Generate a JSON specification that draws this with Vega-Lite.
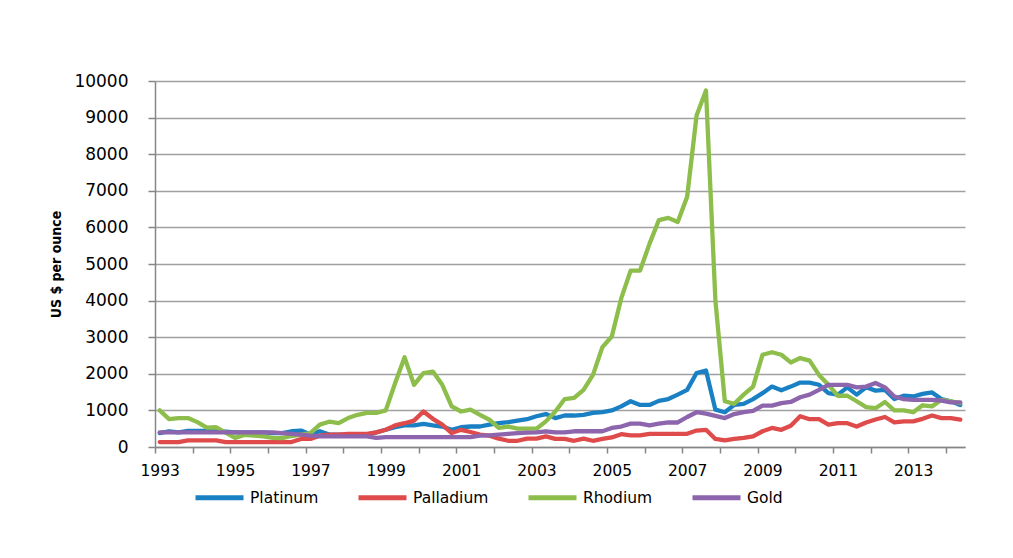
{
  "$schema": "https://vega.github.io/schema/vega-lite/v6.json",
  "width": 810,
  "height": 366,
  "autosize": {"type": "none"},
  "padding": {"left": 155, "top": 81, "right": 48, "bottom": 111},
  "background": "white",
  "data": {"values": [
    {"t": 1993, "Platinum": 380, "Palladium": 135, "Rhodium": 1000, "Gold": 400},
    {"t": 1993.25, "Platinum": 430, "Palladium": 135, "Rhodium": 760, "Gold": 400},
    {"t": 1993.5, "Platinum": 400, "Palladium": 135, "Rhodium": 790, "Gold": 400},
    {"t": 1993.75, "Platinum": 440, "Palladium": 180, "Rhodium": 790, "Gold": 400},
    {"t": 1994, "Platinum": 440, "Palladium": 180, "Rhodium": 680, "Gold": 400},
    {"t": 1994.25, "Platinum": 440, "Palladium": 180, "Rhodium": 530, "Gold": 400},
    {"t": 1994.5, "Platinum": 430, "Palladium": 180, "Rhodium": 540, "Gold": 400},
    {"t": 1994.75, "Platinum": 420, "Palladium": 135, "Rhodium": 390, "Gold": 400},
    {"t": 1995, "Platinum": 400, "Palladium": 135, "Rhodium": 250, "Gold": 400},
    {"t": 1995.25, "Platinum": 400, "Palladium": 135, "Rhodium": 330, "Gold": 400},
    {"t": 1995.5, "Platinum": 400, "Palladium": 135, "Rhodium": 310, "Gold": 400},
    {"t": 1995.75, "Platinum": 400, "Palladium": 135, "Rhodium": 290, "Gold": 400},
    {"t": 1996, "Platinum": 380, "Palladium": 135, "Rhodium": 250, "Gold": 400},
    {"t": 1996.25, "Platinum": 380, "Palladium": 135, "Rhodium": 240, "Gold": 380},
    {"t": 1996.5, "Platinum": 430, "Palladium": 135, "Rhodium": 300, "Gold": 360},
    {"t": 1996.75, "Platinum": 450, "Palladium": 220, "Rhodium": 340, "Gold": 340},
    {"t": 1997, "Platinum": 340, "Palladium": 220, "Rhodium": 380, "Gold": 310},
    {"t": 1997.25, "Platinum": 430, "Palladium": 310, "Rhodium": 610, "Gold": 290},
    {"t": 1997.5, "Platinum": 340, "Palladium": 340, "Rhodium": 690, "Gold": 290},
    {"t": 1997.75, "Platinum": 340, "Palladium": 340, "Rhodium": 650, "Gold": 290},
    {"t": 1998, "Platinum": 340, "Palladium": 360, "Rhodium": 790, "Gold": 290},
    {"t": 1998.25, "Platinum": 340, "Palladium": 360, "Rhodium": 880, "Gold": 290},
    {"t": 1998.5, "Platinum": 340, "Palladium": 360, "Rhodium": 930, "Gold": 290},
    {"t": 1998.75, "Platinum": 400, "Palladium": 400, "Rhodium": 930, "Gold": 250},
    {"t": 1999, "Platinum": 470, "Palladium": 470, "Rhodium": 1000, "Gold": 270},
    {"t": 1999.25, "Platinum": 540, "Palladium": 590, "Rhodium": 1750, "Gold": 270},
    {"t": 1999.5, "Platinum": 590, "Palladium": 650, "Rhodium": 2450, "Gold": 270},
    {"t": 1999.75, "Platinum": 590, "Palladium": 720, "Rhodium": 1700, "Gold": 270},
    {"t": 2000, "Platinum": 630, "Palladium": 970, "Rhodium": 2020, "Gold": 270},
    {"t": 2000.25, "Platinum": 590, "Palladium": 770, "Rhodium": 2060, "Gold": 270},
    {"t": 2000.5, "Platinum": 560, "Palladium": 610, "Rhodium": 1700, "Gold": 270},
    {"t": 2000.75, "Platinum": 470, "Palladium": 380, "Rhodium": 1110, "Gold": 270},
    {"t": 2001, "Platinum": 540, "Palladium": 470, "Rhodium": 970, "Gold": 270},
    {"t": 2001.25, "Platinum": 560, "Palladium": 410, "Rhodium": 1020, "Gold": 270},
    {"t": 2001.5, "Platinum": 560, "Palladium": 340, "Rhodium": 880, "Gold": 310},
    {"t": 2001.75, "Platinum": 610, "Palladium": 310, "Rhodium": 745, "Gold": 320},
    {"t": 2002, "Platinum": 650, "Palladium": 230, "Rhodium": 520, "Gold": 340},
    {"t": 2002.25, "Platinum": 680, "Palladium": 170, "Rhodium": 560, "Gold": 360},
    {"t": 2002.5, "Platinum": 720, "Palladium": 170, "Rhodium": 500, "Gold": 380},
    {"t": 2002.75, "Platinum": 760, "Palladium": 230, "Rhodium": 500, "Gold": 390},
    {"t": 2003, "Platinum": 840, "Palladium": 230, "Rhodium": 500, "Gold": 400},
    {"t": 2003.25, "Platinum": 900, "Palladium": 290, "Rhodium": 700, "Gold": 430},
    {"t": 2003.5, "Platinum": 790, "Palladium": 220, "Rhodium": 970, "Gold": 400},
    {"t": 2003.75, "Platinum": 860, "Palladium": 220, "Rhodium": 1310, "Gold": 400},
    {"t": 2004, "Platinum": 860, "Palladium": 170, "Rhodium": 1340, "Gold": 430},
    {"t": 2004.25, "Platinum": 880, "Palladium": 230, "Rhodium": 1560, "Gold": 430},
    {"t": 2004.5, "Platinum": 930, "Palladium": 170, "Rhodium": 1970, "Gold": 430},
    {"t": 2004.75, "Platinum": 950, "Palladium": 220, "Rhodium": 2730, "Gold": 430},
    {"t": 2005, "Platinum": 1000, "Palladium": 260, "Rhodium": 3020, "Gold": 520},
    {"t": 2005.25, "Platinum": 1110, "Palladium": 350, "Rhodium": 4060, "Gold": 560},
    {"t": 2005.5, "Platinum": 1250, "Palladium": 320, "Rhodium": 4820, "Gold": 640},
    {"t": 2005.75, "Platinum": 1150, "Palladium": 320, "Rhodium": 4820, "Gold": 640},
    {"t": 2006, "Platinum": 1150, "Palladium": 360, "Rhodium": 5550, "Gold": 590},
    {"t": 2006.25, "Platinum": 1260, "Palladium": 360, "Rhodium": 6200, "Gold": 640},
    {"t": 2006.5, "Platinum": 1310, "Palladium": 360, "Rhodium": 6260, "Gold": 670},
    {"t": 2006.75, "Platinum": 1430, "Palladium": 360, "Rhodium": 6150, "Gold": 670},
    {"t": 2007, "Platinum": 1560, "Palladium": 360, "Rhodium": 6840, "Gold": 820},
    {"t": 2007.25, "Platinum": 2020, "Palladium": 450, "Rhodium": 9060, "Gold": 950},
    {"t": 2007.5, "Platinum": 2090, "Palladium": 470, "Rhodium": 9740, "Gold": 910},
    {"t": 2007.75, "Platinum": 1020, "Palladium": 220, "Rhodium": 4000, "Gold": 850},
    {"t": 2008, "Platinum": 950, "Palladium": 180, "Rhodium": 1250, "Gold": 790},
    {"t": 2008.25, "Platinum": 1150, "Palladium": 220, "Rhodium": 1180, "Gold": 900},
    {"t": 2008.5, "Platinum": 1180, "Palladium": 250, "Rhodium": 1430, "Gold": 950},
    {"t": 2008.75, "Platinum": 1310, "Palladium": 290, "Rhodium": 1650, "Gold": 990},
    {"t": 2009, "Platinum": 1470, "Palladium": 430, "Rhodium": 2520, "Gold": 1130},
    {"t": 2009.25, "Platinum": 1650, "Palladium": 520, "Rhodium": 2590, "Gold": 1130},
    {"t": 2009.5, "Platinum": 1550, "Palladium": 470, "Rhodium": 2520, "Gold": 1200},
    {"t": 2009.75, "Platinum": 1650, "Palladium": 580, "Rhodium": 2310, "Gold": 1230},
    {"t": 2010, "Platinum": 1760, "Palladium": 840, "Rhodium": 2430, "Gold": 1360},
    {"t": 2010.25, "Platinum": 1760, "Palladium": 760, "Rhodium": 2360, "Gold": 1430},
    {"t": 2010.5, "Platinum": 1700, "Palladium": 760, "Rhodium": 1970, "Gold": 1560},
    {"t": 2010.75, "Platinum": 1470, "Palladium": 610, "Rhodium": 1700, "Gold": 1700},
    {"t": 2011, "Platinum": 1430, "Palladium": 650, "Rhodium": 1400, "Gold": 1700},
    {"t": 2011.25, "Platinum": 1630, "Palladium": 650, "Rhodium": 1400, "Gold": 1700},
    {"t": 2011.5, "Platinum": 1430, "Palladium": 560, "Rhodium": 1250, "Gold": 1630},
    {"t": 2011.75, "Platinum": 1630, "Palladium": 670, "Rhodium": 1090, "Gold": 1650},
    {"t": 2012, "Platinum": 1540, "Palladium": 750, "Rhodium": 1060, "Gold": 1750},
    {"t": 2012.25, "Platinum": 1560, "Palladium": 820, "Rhodium": 1230, "Gold": 1630},
    {"t": 2012.5, "Platinum": 1310, "Palladium": 670, "Rhodium": 1000, "Gold": 1380},
    {"t": 2012.75, "Platinum": 1400, "Palladium": 700, "Rhodium": 1000, "Gold": 1310},
    {"t": 2013, "Platinum": 1380, "Palladium": 700, "Rhodium": 950, "Gold": 1290},
    {"t": 2013.25, "Platinum": 1450, "Palladium": 770, "Rhodium": 1140, "Gold": 1290},
    {"t": 2013.5, "Platinum": 1490, "Palladium": 860, "Rhodium": 1110, "Gold": 1290},
    {"t": 2013.75, "Platinum": 1310, "Palladium": 790, "Rhodium": 1290, "Gold": 1270},
    {"t": 2014, "Platinum": 1250, "Palladium": 790, "Rhodium": 1250, "Gold": 1220},
    {"t": 2014.25, "Platinum": 1150, "Palladium": 750, "Rhodium": 1200, "Gold": 1220}
  ]},
  "transform": [{"fold": ["Platinum", "Palladium", "Rhodium", "Gold"], "as": ["metal", "price"]}],
  "mark": {"type": "line", "strokeWidth": 4.3, "strokeJoin": "round", "strokeCap": "round"},
  "encoding": {
    "x": {
      "field": "t", "type": "quantitative",
      "scale": {"domain": [1992.875, 2014.375], "nice": false, "zero": false},
      "axis": {
        "title": null, "grid": false,
        "values": [1993,1994,1995,1996,1997,1998,1999,2000,2001,2002,2003,2004,2005,2006,2007,2008,2009,2010,2011,2012,2013,2014],
        "labelExpr": "datum.value % 2 == 1 ? format(datum.value, 'd') : ''",
        "tickOffset": -4.71, "labelOffset": 4.71,
        "tickSize": 6, "tickWidth": 1.5, "tickColor": "#868686",
        "domainColor": "#868686", "domainWidth": 1.5,
        "labelFont": "DejaVu Sans", "labelFontSize": 15.5, "labelColor": "#000000",
        "labelPadding": 10, "labelOverlap": false, "labelFlush": false
      }
    },
    "y": {
      "field": "price", "type": "quantitative",
      "scale": {"domain": [0, 10000], "nice": false},
      "axis": {
        "title": "US $ per ounce",
        "values": [0,1000,2000,3000,4000,5000,6000,7000,8000,9000,10000],
        "format": "d",
        "titleFont": "Liberation Sans Narrow, DejaVu Sans Condensed, Liberation Sans", "titleFontWeight": "bold", "titleFontSize": 14, "titleColor": "#000000",
        "titlePadding": 10,
        "labelFont": "DejaVu Sans", "labelFontSize": 17, "labelColor": "#000000",
        "tickSize": 7, "tickWidth": 1.5, "tickColor": "#868686",
        "domainColor": "#868686", "domainWidth": 1.5,
        "gridColor": "#a0a0a0", "gridWidth": 1.5,
        "labelPadding": 20
      }
    },
    "color": {
      "field": "metal", "type": "nominal",
      "scale": {"domain": ["Platinum", "Palladium", "Rhodium", "Gold"], "range": ["#1a80c4", "#df4a4a", "#8dbd4a", "#8c65ac"]},
      "legend": {
        "title": null, "orient": "none", "direction": "horizontal",
        "legendX": 38, "legendY": 390,
        "symbolType": "stroke", "symbolSize": 2304, "symbolStrokeWidth": 5,
        "labelFont": "DejaVu Sans", "labelFontSize": 15.5, "labelColor": "#000000",
        "labelOffset": 4, "columnPadding": 29
      }
    }
  },
  "config": {"view": {"stroke": null}}
}
